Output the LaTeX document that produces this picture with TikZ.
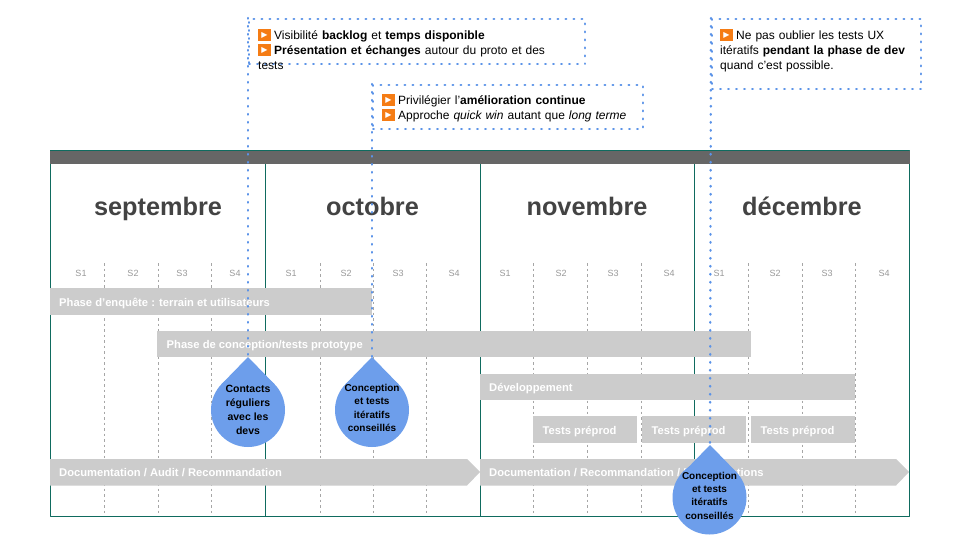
\documentclass[tikz,border=0pt]{standalone}
\usepackage{fontspec}
\setmainfont{Liberation Sans}
\newfontfamily\symfont{DejaVu Sans}
\usetikzlibrary{arrows.meta,calc,positioning}
\definecolor{planTeal}{HTML}{0F6B5F}
\definecolor{planBand}{HTML}{666666}
\definecolor{planBar}{HTML}{CCCCCC}
\definecolor{planInk}{HTML}{434343}
\definecolor{planGrey}{HTML}{999999}
\definecolor{planWeek}{HTML}{A6A6A6}
\definecolor{planDrop}{HTML}{6D9EEB}
\definecolor{planDot}{HTML}{5B93E8}
\definecolor{planIcon}{HTML}{F57C14}
\newcommand{\playicon}{\makebox[12.5pt][l]{\textcolor{planIcon}{\rule[-1.5pt]{12.5pt}{12.5pt}}\llap{\makebox[12.5pt]{\raisebox{2.2pt}{\textcolor{white}{\symfont\fontsize{8}{8}\selectfont ▶}}}}}\hspace{3.5pt}}

\begin{document}
\begin{tikzpicture}[x=1pt,y=-1pt,line cap=butt,line join=round]
\path[fill=white] (0,0) rectangle (960,540);
\tikzset{weekline/.style={draw=planWeek,line width=0.6pt,dash pattern=on 2.5pt off 3pt},frameline/.style={draw=planTeal,line width=1pt},month/.style={anchor=base,text=planInk,font=\fontsize{25.3}{30}\selectfont\bfseries},week/.style={text=planGrey,font=\fontsize{9}{11}\selectfont},bar/.style={fill=planBar,minimum height=26.5pt,anchor=west,inner sep=0pt},barlabel/.style={anchor=west,inner sep=0pt,text=white,font=\fontsize{11.2}{13}\selectfont\bfseries},notebox/.style={draw=planDot,line width=2.4pt,line cap=round,dash pattern=on 0.6pt off 7.4pt,anchor=north west,inner sep=0pt},notetext/.style={anchor=north west,align=left,inner sep=0pt,text=black,font=\fontsize{12}{15}\selectfont},dotline/.style={draw=planDot,line width=2.4pt,line cap=round,dash pattern=on 0.6pt off 7.4pt},droptip/.style={fill=planDrop},drop/.style={circle,fill=planDrop,minimum size=74pt,inner sep=0pt},droptext/.style={align=center,inner sep=0pt,text=black,font=\fontsize{10}{13.3}\selectfont\bfseries}}
% week separators
\draw[weekline] (104,263) -- (104,516); \draw[weekline] (158,263) -- (158,516); \draw[weekline] (211,263) -- (211,516);
\draw[weekline] (320,263) -- (320,516); \draw[weekline] (373,263) -- (373,516); \draw[weekline] (426,263) -- (426,516);
\draw[weekline] (533,263) -- (533,516); \draw[weekline] (587,263) -- (587,516); \draw[weekline] (641,263) -- (641,516);
\draw[weekline] (748,263) -- (748,516); \draw[weekline] (802,263) -- (802,516); \draw[weekline] (855,263) -- (855,516);
% frame
\draw[frameline] (50.5,151) rectangle (909.5,516);
\draw[frameline] (265.5,151) -- (265.5,516); \draw[frameline] (480.5,151) -- (480.5,516); \draw[frameline] (694.5,151) -- (694.5,516);
\path[fill=planBand] (50,151) rectangle (910,164);
\node[month] (monthSep) at (158,215) {septembre};
\node[month] (monthOct) at (372.5,215) {octobre};
\node[month] (monthNov) at (587,215) {novembre};
\node[month] (monthDec) at (802,215) {décembre};
\node[week] (sepS1) at (81,273.5) {S1}; \node[week] (sepS2) at (133,273.5) {S2}; \node[week] (sepS3) at (182,273.5) {S3}; \node[week] (sepS4) at (235,273.5) {S4};
\node[week] (octS1) at (291,273.5) {S1}; \node[week] (octS2) at (346,273.5) {S2}; \node[week] (octS3) at (398,273.5) {S3}; \node[week] (octS4) at (454,273.5) {S4};
\node[week] (novS1) at (505,273.5) {S1}; \node[week] (novS2) at (561,273.5) {S2}; \node[week] (novS3) at (613,273.5) {S3}; \node[week] (novS4) at (669,273.5) {S4};
\node[week] (decS1) at (719,273.5) {S1}; \node[week] (decS2) at (775,273.5) {S2}; \node[week] (decS3) at (827,273.5) {S3}; \node[week] (decS4) at (884,273.5) {S4};
% phase bars
\node[bar,minimum width=322pt] (barEnquete) at (50,301.5) {};
\node[barlabel] (labelEnquete) at (59,303) {Phase d’enquête : terrain et utilisateurs};
\node[bar,minimum width=594pt] (barConception) at (157,344) {};
\node[barlabel] (labelConception) at (166.5,346) {Phase de conception/tests prototype};
\node[bar,minimum width=375pt] (barDev) at (480,387) {};
\node[barlabel] (labelDev) at (489,388.5) {Développement};
\node[bar,minimum width=104pt] (barTestsA) at (533,429.5) {};
\node[barlabel] (labelTestsA) at (542.5,431.5) {Tests préprod};
\node[bar,minimum width=104pt] (barTestsB) at (642,429.5) {};
\node[barlabel] (labelTestsB) at (651.5,431.5) {Tests préprod};
\node[bar,minimum width=104pt] (barTestsC) at (751,429.5) {};
\node[barlabel] (labelTestsC) at (760.5,431.5) {Tests préprod};
\path[fill=planBar] (50,459) -- (467,459) -- (480,472) -- (467,485.5) -- (50,485.5) -- cycle;
\node[barlabel] (labelDocA) at (59,473) {Documentation / Audit / Recommandation};
\path[fill=planBar] (480,459) -- (896,459) -- (909,472) -- (896,485.5) -- (480,485.5) -- cycle;
\node[barlabel] (labelDocB) at (489,473) {Documentation / Recommandation / Préconisations};
% notes
\coordinate (tipContacts) at (248,357);
\coordinate (tipIteratifs) at (372,357);
\coordinate (tipDev) at (710,445);
\node[notebox,minimum width=336pt,minimum height=45pt] (noteBacklog) at (248,18) {};
\node[notebox,minimum width=270pt,minimum height=44pt] (noteAmelioration) at (372,84) {};
\node[notebox,minimum width=209pt,minimum height=70pt] (noteUX) at (711,18) {};
\draw[dotline] (noteBacklog.north west) -- (tipContacts);
\draw[dotline] (noteAmelioration.north west) -- (tipIteratifs);
\draw[dotline] (noteUX.north west) -- (tipDev);
\node[notetext,text width=300pt] (textBacklog) at (258,28.5) {\playicon Visibilité \textbf{backlog} et \textbf{temps disponible}\\\playicon \textbf{Présentation et échanges} autour du proto et des\\tests};
\node[notetext,text width=258pt] (textAmelioration) at (382,93.5) {\playicon Privilégier l’\textbf{amélioration continue}\\\playicon Approche \textit{quick win} autant que \textit{long terme}};
\node[notetext,text width=190pt] (textUX) at (720,28.5) {\playicon Ne pas oublier les tests UX\\itératifs \textbf{pendant la phase de dev}\\quand c’est possible.};
% drops
\path[droptip] (tipContacts) -- ++(26.5,27.2) -- ++(-53,0) -- cycle;
\node[drop] (dropContacts) at (248,410) {};
\node[droptext,font=\fontsize{10.5}{14}\selectfont\bfseries] (textContacts) at (248,410) {Contacts\\réguliers\\avec les\\devs};
\path[droptip] (tipIteratifs) -- ++(26.5,27.2) -- ++(-53,0) -- cycle;
\node[drop] (dropIteratifs) at (372,410) {};
\node[droptext] (textIteratifs) at (372,408) {Conception\\et tests\\itératifs\\conseillés};
\path[droptip] (tipDev) -- ++(26.5,27.2) -- ++(-53,0) -- cycle;
\node[drop] (dropDev) at (709.5,497.5) {};
\node[droptext] (textDev) at (709.5,495.5) {Conception\\et tests\\itératifs\\conseillés};
\end{tikzpicture}
\end{document}
